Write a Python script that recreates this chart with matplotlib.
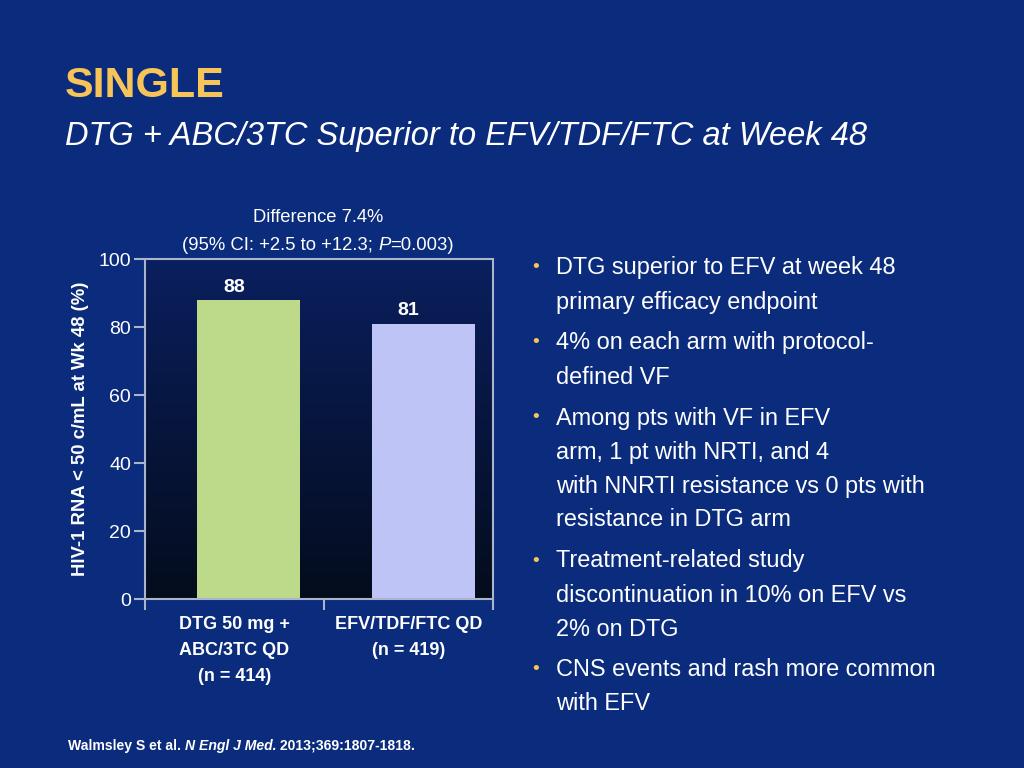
import numpy as np
import matplotlib
matplotlib.use('Agg')
import matplotlib.pyplot as plt
from matplotlib.colors import LinearSegmentedColormap

# data
categories = ['DTG 50 mg +\nABC/3TC QD\n(n = 414)', 'EFV/TDF/FTC QD\n(n = 419)']
values = [88, 81]
bar_colors = ['#bdd98a', '#bec4f6']
yticks = [0, 20, 40, 60, 80, 100]

bullets = [
    'DTG superior to EFV at week 48\nprimary efficacy endpoint',
    '4% on each arm with protocol-\ndefined VF',
    'Among pts with VF in EFV\narm, 1 pt with NRTI, and 4\nwith NNRTI resistance vs 0 pts with\nresistance in DTG arm',
    'Treatment-related study\ndiscontinuation in 10% on EFV vs\n2% on DTG',
    'CNS events and rash more common\nwith EFV',
]

BG = '#0b2c7c'
GOLD = '#f6c458'
SPINE = '#aab4cc'
FONT = 'Liberation Sans'

plt.rcParams['font.family'] = FONT

fig = plt.figure(figsize=(10.24, 7.68), dpi=100, facecolor=BG)

# titles
fig.text(65 / 1024, 1 - 97 / 768, 'SINGLE', color=GOLD, fontsize=31,
         fontweight='bold', va='baseline', ha='left')
fig.text(65 / 1024, 1 - 145 / 768, 'DTG + ABC/3TC Superior to EFV/TDF/FTC at Week 48',
         color='white', fontsize=23.5, style='italic', va='baseline', ha='left')

# bar chart
ax = fig.add_axes([145 / 1024, 1 - 599 / 768, 348 / 1024, 340 / 768])
ax.set_facecolor('#061640')
x = np.arange(len(values))
xlim = (-0.593, 1.401)
ax.set_xlim(*xlim)
ax.set_ylim(0, 100)

grad = np.linspace(0, 1, 256).reshape(-1, 1)
cmap = LinearSegmentedColormap.from_list('bg', ['#040c1c', '#0a1f5e'])
ax.imshow(grad, extent=[xlim[0], xlim[1], 0, 100], origin='lower',
          aspect='auto', cmap=cmap, zorder=0)

bounds = [xlim[0], 0.433, xlim[1]]
centers = [(bounds[0] + bounds[1]) / 2, (bounds[1] + bounds[2]) / 2]

bars = ax.bar(x, values, width=0.59, color=bar_colors, zorder=2)
for cx, v in zip(centers, values):
    ax.annotate(f'{v}', xy=(cx, v), xytext=(0, 3), textcoords='offset points',
                ha='center', va='bottom', color='white', fontsize=14,
                fontweight='bold')

for s in ax.spines.values():
    s.set_color(SPINE)
    s.set_linewidth(1.5)

ax.set_xticks(bounds)
ax.set_xticklabels([])
ax.set_xticks(centers, minor=True)
ax.set_xticklabels(categories, minor=True, color='white', fontsize=13,
                   fontweight='bold', linespacing=1.72)
ax.tick_params(axis='x', which='major', length=8, width=1.5, color=SPINE, direction='out')
ax.tick_params(axis='x', which='minor', length=0, pad=12)
ax.set_yticks(yticks)
ax.set_yticklabels([str(t) for t in yticks], color='white', fontsize=14)
ax.tick_params(axis='y', length=8, width=1.5, color=SPINE, direction='out', pad=2)
ax.set_ylabel('HIV-1 RNA < 50 c/mL at Wk 48 (%)', color='white', fontsize=13.3,
              fontweight='bold', labelpad=7)

# difference annotation
fig.text(318 / 1024, 1 - 217 / 768, 'Difference 7.4%', color='white', fontsize=13.2,
         ha='center', va='center')
t1 = fig.text(182 / 1024, 1 - 245 / 768, '(95% CI: +2.5 to +12.3; ', color='white',
              fontsize=13.3, ha='left', va='center')
t2 = fig.text(0, 0, 'P', color='white', fontsize=13.3, style='italic',
              ha='left', va='bottom')
t3 = fig.text(0, 0, '=0.003)', color='white', fontsize=13.3,
              ha='left', va='bottom')
fig.canvas.draw()
r = fig.canvas.get_renderer()
inv = fig.transFigure.inverted()
bb = t1.get_window_extent(r)
t2.set_position(inv.transform((bb.x1, bb.y0)))
bb = t2.get_window_extent(r)
t3.set_position(inv.transform((bb.x1, bb.y0)))

# bullets
y = 268
line_h = 34
gap = 7
for b in bullets:
    fig.text(532 / 1024, 1 - y / 768, '\u2022', color=GOLD, fontsize=14,
             ha='left', va='center')
    for ln in b.split('\n'):
        fig.text(556 / 1024, 1 - y / 768, ln, color='white', fontsize=16.9,
                 ha='left', va='center')
        y += line_h
    y += gap

# footnote
parts = [('Walmsley S et al. ', 'normal'), ('N Engl J Med.', 'italic'),
         (' 2013;369:1807-1818.', 'normal')]
xpos = 68 / 1024
for txt, st in parts:
    t = fig.text(xpos, 1 - 750 / 768, txt, color='white', fontsize=10.1,
                 fontweight='bold', style=st, ha='left', va='baseline')
    bb = t.get_window_extent(r)
    xpos = inv.transform((bb.x1, bb.y0))[0]

fig.savefig('out.png', dpi=100, facecolor=BG)
